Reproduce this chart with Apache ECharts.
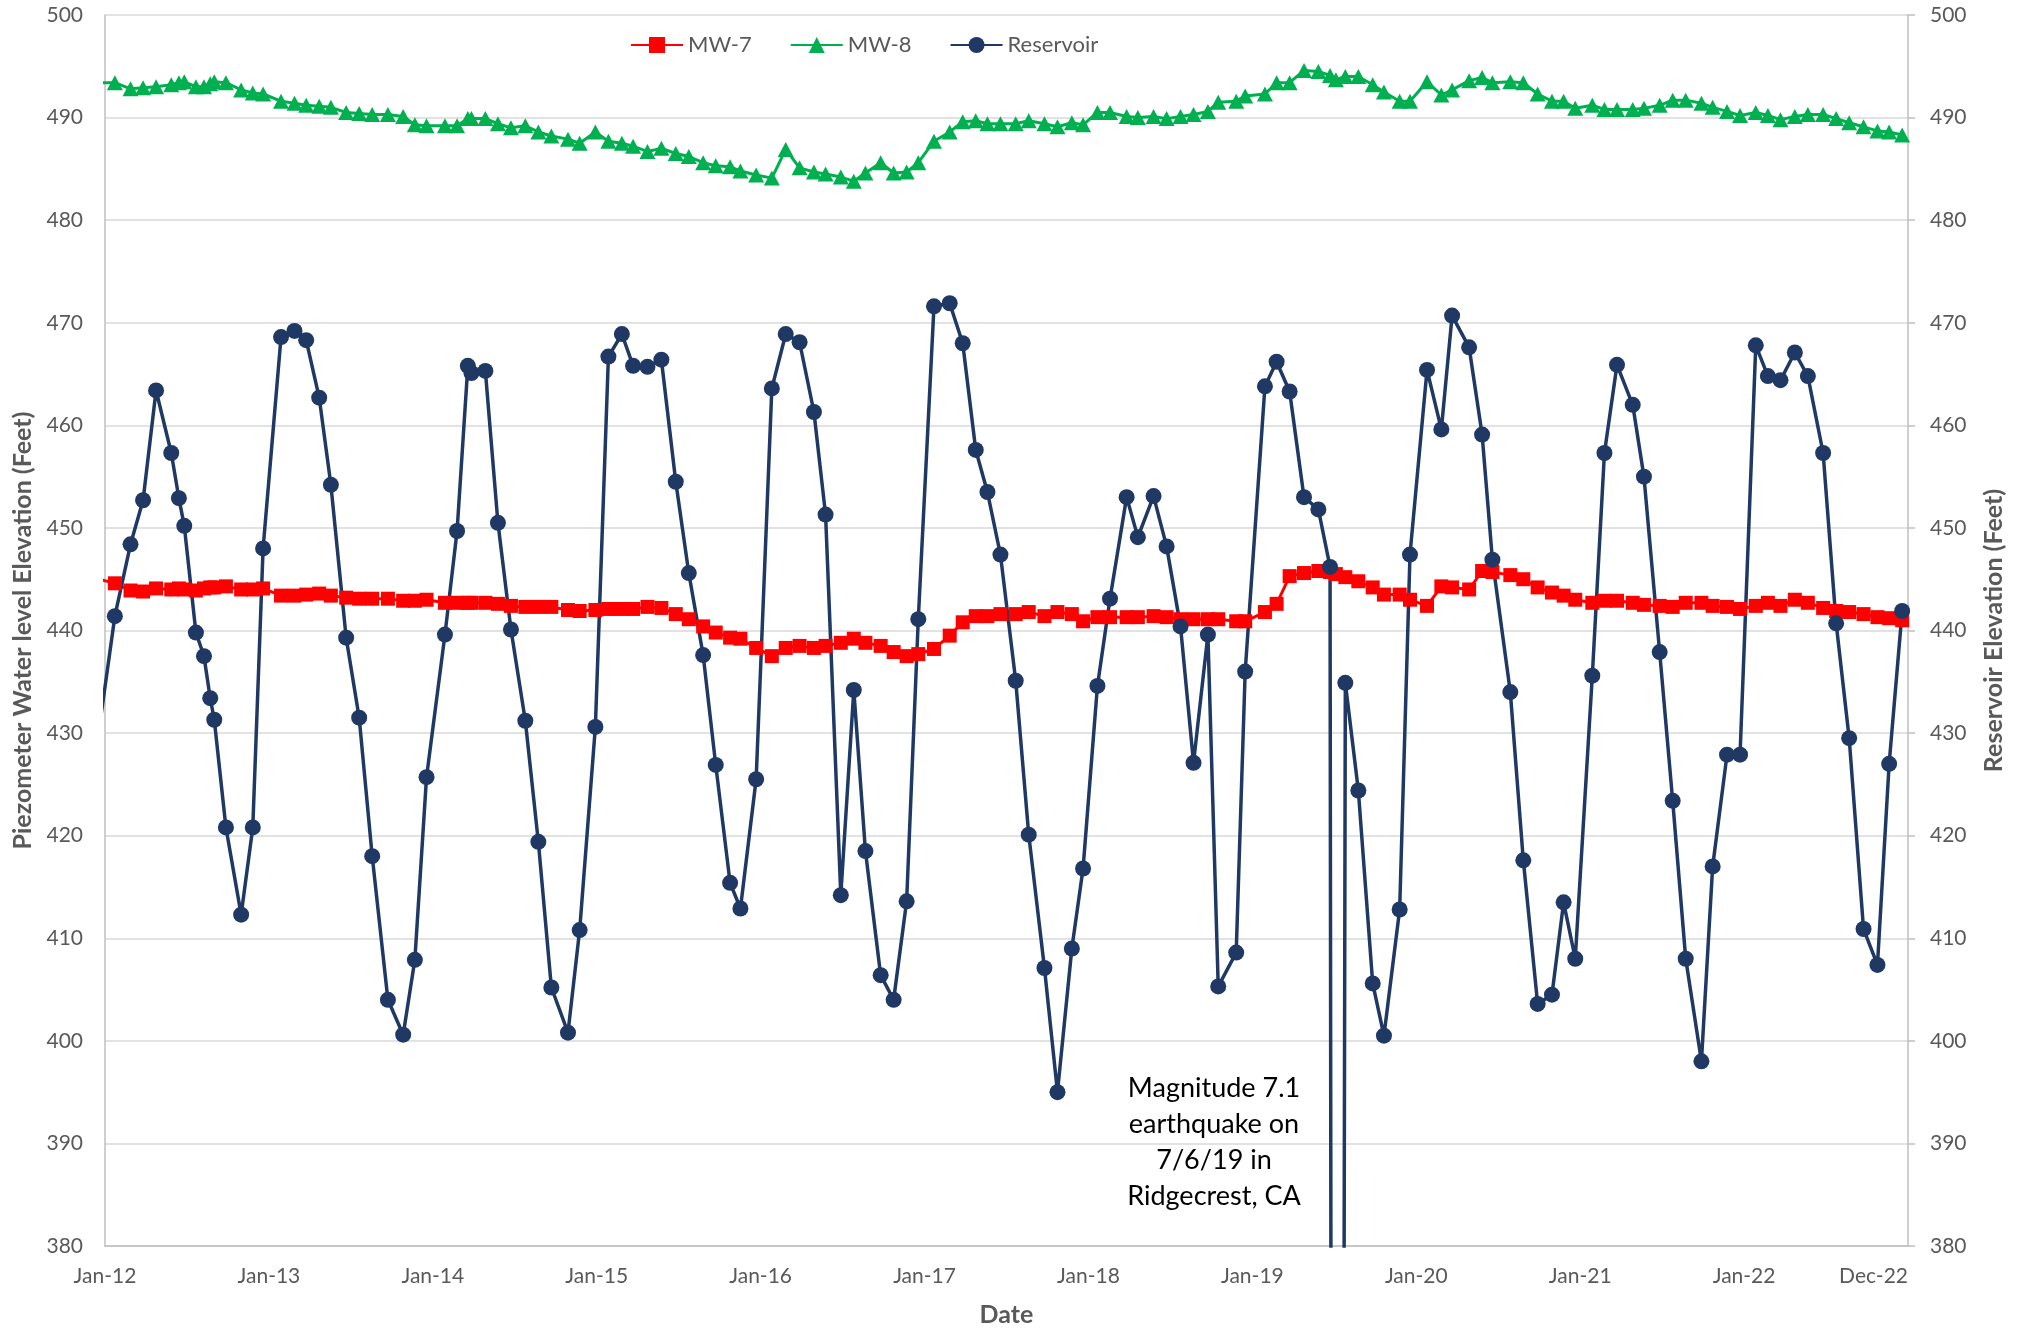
<!DOCTYPE html>
<html>
<head>
<meta charset="utf-8">
<script src="https://cdn.jsdelivr.net/npm/echarts@6/dist/echarts.min.js"></script>
<style>
html,body{margin:0;padding:0;background:#fff;}
#chart{width:2019px;height:1332px;}
</style>
</head>
<body>
<div id="chart"></div>
<script>
// Sampling dates (first entry lies just before the axis start and is clipped)
const dates = [
'2011-12-19','2012-01-23','2012-02-27','2012-03-26','2012-04-24','2012-05-28','2012-06-14','2012-06-26','2012-07-22','2012-08-09',
'2012-08-23','2012-09-01','2012-09-27','2012-10-31','2012-11-26','2012-12-19','2013-01-28','2013-02-27','2013-03-25','2013-04-23',
'2013-05-19','2013-06-22','2013-07-21','2013-08-19','2013-09-23','2013-10-27','2013-11-22','2013-12-18','2014-01-28','2014-02-24',
'2014-03-20','2014-03-28','2014-04-28','2014-05-26','2014-06-24','2014-07-26','2014-08-24','2014-09-22','2014-10-29','2014-11-24',
'2014-12-29','2015-01-27','2015-02-26','2015-03-23','2015-04-24','2015-05-25','2015-06-26','2015-07-25','2015-08-26','2015-09-23',
'2015-10-25','2015-11-17','2015-12-22','2016-01-26','2016-02-26','2016-03-28','2016-04-29','2016-05-25','2016-06-28','2016-07-27',
'2016-08-22','2016-09-25','2016-10-24','2016-11-22','2016-12-18','2017-01-22','2017-02-26','2017-03-27','2017-04-25','2017-05-21',
'2017-06-19','2017-07-23','2017-08-21','2017-09-25','2017-10-24','2017-11-25','2017-12-20','2018-01-21','2018-02-18','2018-03-27',
'2018-04-21','2018-05-26','2018-06-24','2018-07-25','2018-08-23','2018-09-24','2018-10-17','2018-11-26','2018-12-16','2019-01-29',
'2019-02-24','2019-03-25','2019-04-26','2019-05-28','2019-06-23','2019-07-06','2019-07-27','2019-08-25','2019-09-26','2019-10-21',
'2019-11-25','2019-12-18','2020-01-25','2020-02-26','2020-03-21','2020-04-28','2020-05-27','2020-06-19','2020-07-29','2020-08-27',
'2020-09-28','2020-10-30','2020-11-25','2020-12-21','2021-01-28','2021-02-24','2021-03-24','2021-04-28','2021-05-23','2021-06-27',
'2021-07-26','2021-08-24','2021-09-28','2021-10-23','2021-11-24','2021-12-23','2022-01-27','2022-02-23','2022-03-23','2022-04-24',
'2022-05-23','2022-06-26','2022-07-25','2022-08-23','2022-09-24','2022-10-25','2022-11-20','2022-12-19'
];

const mw7 = [
445.0,444.6,443.9,443.8,444.1,444.0,444.1,444.0,443.9,444.1,
444.2,444.2,444.3,444.0,444.0,444.1,443.4,443.4,443.5,443.6,
443.4,443.2,443.1,443.1,443.1,442.9,442.9,443.0,442.7,442.7,
442.7,442.7,442.7,442.6,442.4,442.3,442.3,442.3,442.0,441.9,
442.0,442.1,442.1,442.1,442.3,442.2,441.6,441.1,440.4,439.8,
439.3,439.2,438.3,437.5,438.3,438.5,438.3,438.5,438.8,439.2,
438.8,438.5,437.9,437.5,437.7,438.2,439.5,440.8,441.4,441.4,
441.6,441.6,441.8,441.4,441.8,441.6,440.9,441.3,441.3,441.3,
441.3,441.4,441.3,441.1,441.1,441.1,441.1,440.9,440.9,441.8,
442.6,445.3,445.6,445.8,445.7,445.5,445.2,444.8,444.2,443.5,
443.5,443.0,442.4,444.3,444.2,444.0,445.8,445.7,445.4,445.0,
444.2,443.7,443.4,443.0,442.7,442.9,442.9,442.7,442.5,442.4,
442.3,442.7,442.7,442.4,442.3,442.1,442.4,442.7,442.4,443.0,
442.7,442.2,441.9,441.8,441.6,441.3,441.2,441.0
];

const mw8 = [
493.4,493.4,492.8,492.9,493.0,493.2,493.4,493.5,493.0,493.0,
493.3,493.5,493.4,492.7,492.4,492.3,491.6,491.4,491.2,491.1,
491.0,490.5,490.4,490.3,490.3,490.1,489.3,489.2,489.2,489.2,
489.9,489.9,489.9,489.4,489.0,489.2,488.6,488.2,487.9,487.5,
488.6,487.7,487.5,487.2,486.7,487.0,486.5,486.2,485.6,485.3,
485.2,484.8,484.4,484.1,486.9,485.1,484.7,484.5,484.2,483.8,
484.6,485.6,484.6,484.7,485.6,487.7,488.6,489.6,489.7,489.4,
489.4,489.4,489.7,489.4,489.1,489.5,489.3,490.5,490.5,490.1,
490.0,490.1,489.9,490.1,490.3,490.6,491.5,491.6,492.1,492.3,
493.4,493.4,494.6,494.5,494.1,493.7,494.0,494.0,493.2,492.5,
491.6,491.6,493.5,492.2,492.7,493.6,493.9,493.4,493.5,493.4,
492.3,491.6,491.6,490.9,491.2,490.8,490.8,490.8,490.9,491.2,
491.7,491.7,491.4,491.0,490.6,490.2,490.5,490.2,489.8,490.1,
490.3,490.3,489.9,489.5,489.1,488.7,488.6,488.3
];

const reservoir = [
430.4,441.4,448.4,452.7,463.4,457.3,452.9,450.2,439.8,437.5,
433.4,431.3,420.8,412.3,420.8,448.0,468.6,469.2,468.3,462.7,
454.2,439.3,431.5,418.0,404.0,400.6,407.9,425.7,439.6,449.7,
465.8,465.1,465.3,450.5,440.1,431.2,419.4,405.2,400.8,410.8,
430.6,466.7,468.9,465.8,465.7,466.4,454.5,445.6,437.6,426.9,
415.4,412.9,425.5,463.6,468.9,468.1,461.3,451.3,414.2,434.2,
418.5,406.4,404.0,413.6,441.1,471.6,471.9,468.0,457.6,453.5,
447.4,435.1,420.1,407.1,395.0,409.0,416.8,434.6,443.1,453.0,
449.1,453.1,448.2,440.4,427.1,439.6,405.3,408.6,436.0,463.8,
466.2,463.3,453.0,451.8,446.2,0,434.9,424.4,405.6,400.5,
412.8,447.4,465.4,459.6,470.7,467.6,459.1,446.9,434.0,417.6,
403.6,404.5,413.5,408.0,435.6,457.3,465.9,462.0,455.0,437.9,
423.4,408.0,398.0,417.0,427.9,427.9,467.8,464.8,464.4,467.1,
464.8,457.3,440.7,429.5,410.9,407.4,427.0,441.9
];

const seriesNames = ['MW-7', 'MW-8', 'Reservoir'];
const xStartYear = 2012, xEndYear = 2023;
const yMin = 380, yMax = 500, yStep = 10;
const annotationLines = ['Magnitude 7.1', 'earthquake on', '7/6/19 in', 'Ridgecrest, CA'];

function toYear(s) {
  const p = s.split('-').map(Number);
  const t = Date.UTC(p[0], p[1] - 1, p[2]);
  const a = Date.UTC(p[0], 0, 1), b = Date.UTC(p[0] + 1, 0, 1);
  return p[0] + (t - a) / (b - a);
}
const xs = dates.map(toYear);
const pairs = arr => arr.map((v, i) => [xs[i], v]);

const FONT = 'Lato';
const GRAY = '#595959';

const chart = echarts.init(document.getElementById('chart'), null, {renderer: 'canvas'});
const yAxisCommon = {
  type: 'value', min: yMin, max: yMax, interval: yStep,
  nameLocation: 'middle', nameRotate: 90,
  nameTextStyle: {color: GRAY, fontFamily: FONT, fontWeight: 'bold', fontSize: 25},
  axisLine: {show: true, lineStyle: {color: '#BFBFBF', width: 1.5}},
  axisLabel: {color: GRAY, fontFamily: FONT, fontSize: 21, margin: 22},
  splitLine: {show: true, lineStyle: {color: '#D9D9D9', width: 1.5}}
};
chart.setOption({
  animation: false,
  backgroundColor: '#fff',
  grid: {left: 105, right: 111, top: 15, bottom: 85, containLabel: false},
  legend: {
    data: seriesNames, left: 625, top: 29, itemWidth: 52, itemHeight: 20, itemGap: 38,
    textStyle: {color: GRAY, fontFamily: FONT, fontSize: 22}
  },
  xAxis: {
    type: 'value', min: xStartYear, max: xEndYear, interval: 1,
    name: 'Date', nameLocation: 'middle', nameGap: 56,
    nameTextStyle: {color: GRAY, fontFamily: FONT, fontWeight: 'bold', fontSize: 25},
    axisLine: {show: true, onZero: false, lineStyle: {color: '#BFBFBF', width: 1.5}},
    axisTick: {show: false},
    splitLine: {show: false},
    axisLabel: {
      color: GRAY, fontFamily: FONT, fontSize: 21, margin: 20,
      showMinLabel: true, showMaxLabel: true, alignMaxLabel: 'right',
      formatter: v => {
        const y = Math.round(v);
        if (y === xEndYear) return 'Dec-' + String(y - 1).slice(2);
        return 'Jan-' + String(y).slice(2);
      }
    }
  },
  yAxis: [
    Object.assign({}, yAxisCommon, {
      position: 'left', name: 'Piezometer Water level Elevation (Feet)', nameGap: 69,
      axisTick: {show: false}
    }),
    Object.assign({}, yAxisCommon, {
      position: 'right', name: 'Reservoir Elevation (Feet)', nameGap: 73,
      axisTick: {show: true, length: 7, lineStyle: {color: '#BFBFBF', width: 1.5}},
      splitLine: {show: false}
    })
  ],
  series: [
    {
      name: seriesNames[0], type: 'line', data: pairs(mw7), yAxisIndex: 0,
      symbol: 'rect', symbolSize: 14, clip: true,
      lineStyle: {color: '#FF0000', width: 3}, itemStyle: {color: '#FF0000'}
    },
    {
      name: seriesNames[1], type: 'line', data: pairs(mw8), yAxisIndex: 0,
      symbol: 'triangle', symbolSize: [16, 15], clip: true,
      lineStyle: {color: '#00B050', width: 3}, itemStyle: {color: '#00B050'}
    },
    {
      name: seriesNames[2], type: 'line', data: pairs(reservoir), yAxisIndex: 1,
      symbol: 'circle', symbolSize: 16, clip: true,
      lineStyle: {color: '#1F3864', width: 3.5}, itemStyle: {color: '#1F3864'}
    }
  ],
  graphic: [{
    type: 'text', x: 1214, y: 1070, z: 100,
    style: {
      text: annotationLines.join('\n'), fill: '#000',
      fontFamily: FONT, fontSize: 27, lineHeight: 36,
      textAlign: 'center', align: 'center', textVerticalAlign: 'top', verticalAlign: 'top'
    }
  }]
});
</script>
</body>
</html>
